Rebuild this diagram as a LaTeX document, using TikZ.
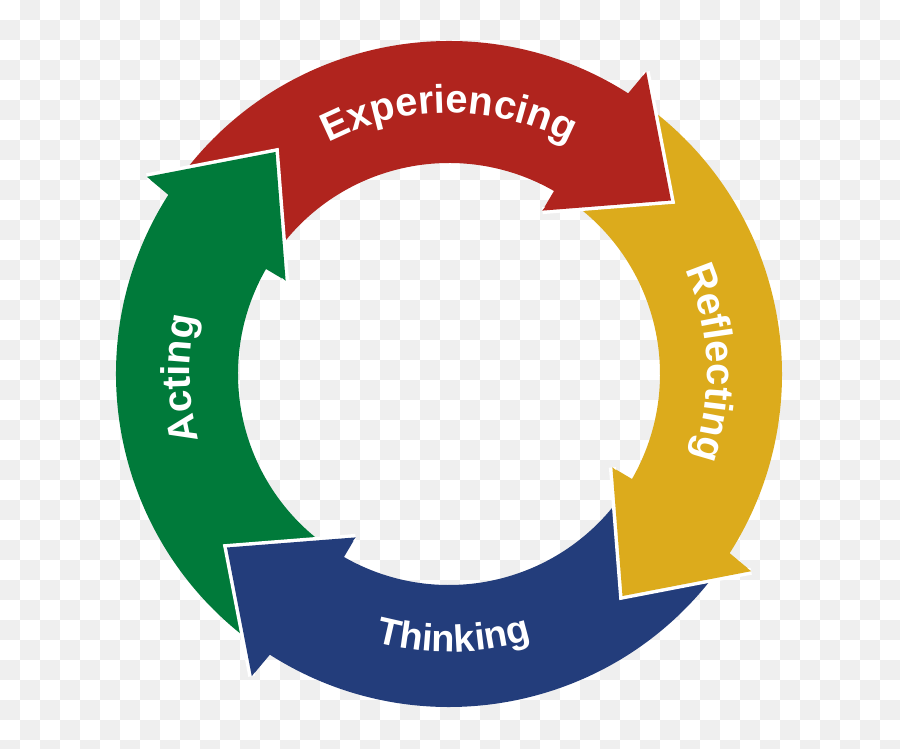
\documentclass[tikz,border=0pt]{standalone}
\usepackage{fontspec}
\setmainfont{Liberation Sans}
\usetikzlibrary{decorations.text}
\definecolor{cred}{RGB}{176,36,30}
\definecolor{cyel}{RGB}{220,171,28}
\definecolor{cblu}{RGB}{35,61,123}
\definecolor{cgrn}{RGB}{0,122,58}
\definecolor{chk}{RGB}{239,239,239}
\begin{document}
\begin{tikzpicture}[x=1pt,y=1pt,
  lbl/.style={decorate, decoration={text along path, text align=center, text color=white}}]
\useasboundingbox (-449,-375) rectangle (451,374);
\begin{scope}
\clip (-449,-375) rectangle (451,374);
\fill[white] (-449,-375) rectangle (451,374);
\foreach \i in {0,...,44}{
  \foreach \j in {0,...,37}{
    \pgfmathtruncatemacro\s{mod(\i+\j,2)}
    \ifnum\s=1 \fill[chk] ({20*\i-449},{374-20*\j}) rectangle ++(20,-20); \fi
  }}
\end{scope}
% arrow bodies
\foreach \k/\c in {0/cred,1/cyel,2/cblu,3/cgrn}{
  \begin{scope}[rotate=-90*\k]
    \fill[\c] (145:333) arc[start angle=145,end angle=57.45,radius=333]
      -- (197.2,302.2) -- (222,173.5) -- (93.4,163.4) -- (60.15:211)
      arc[start angle=60.15,end angle=145,radius=211] -- cycle;
  \end{scope}
}
% arrow heads with white rim
\foreach \k/\c in {0/cred,1/cyel,2/cblu,3/cgrn}{
  \begin{scope}[rotate=-90*\k]
    \draw[white, line width=7, line join=miter] (197.2,302.2) -- (222,173.5) -- (93.4,163.4);
    \fill[\c] (197.2,302.2) -- (222,173.5) -- (93.4,163.4) -- cycle;
  \end{scope}
}
% labels
\path[lbl, decoration={text={|\fontsize{40}{40}\selectfont\bfseries|Experiencing}}]
  (130:261) arc[start angle=130,end angle=50,radius=261];
\path[lbl, decoration={text={|\fontsize{40}{40}\selectfont\bfseries|Reflecting}}]
  (42.5:258) arc[start angle=42.5,end angle=-37.5,radius=258];
\path[lbl, decoration={text={|\fontsize{38}{38}\selectfont\bfseries|Thinking}}]
  (-129:278) arc[start angle=-129,end angle=-49,radius=278];
\path[lbl, decoration={text={|\fontsize{40}{40}\selectfont\bfseries|Acting}}]
  (221:259) arc[start angle=221,end angle=141,radius=259];
\end{tikzpicture}
\end{document}
